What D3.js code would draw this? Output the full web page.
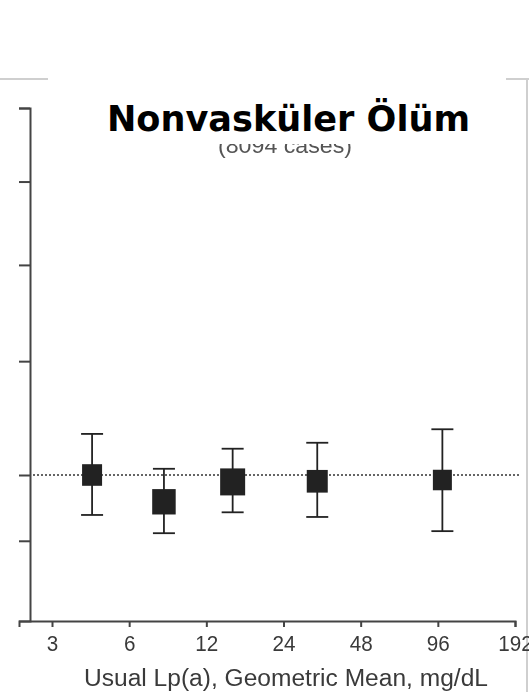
<!DOCTYPE html>
<html>
<head>
<meta charset="utf-8">
<script src="https://cdn.jsdelivr.net/npm/d3@7"></script>
<style>
  html, body { margin: 0; padding: 0; background: #fff; }
  svg { display: block; }
</style>
</head>
<body>
<svg id="chart" width="529" height="692"></svg>
<script>
// Lp(a) fifths: geometric mean of usual Lp(a), mg/dL
const lpaMeans = [4.3, 8.2, 15.2, 32.5, 100];
// Risk ratios with 95% confidence limits
const riskRatio = [1.000, 0.958, 0.989, 0.990, 0.992];
const ciLow = [0.938, 0.911, 0.942, 0.935, 0.914];
const ciHigh = [1.068, 1.010, 1.043, 1.053, 1.076];
// Cases per group (box area)
const caseCounts = [1361, 1878, 2126, 1500, 1228];
// Axis ticks
const xTicks = [3, 6, 12, 24, 48, 96, 192];
const yTicks = [0.9, 1, 1.2, 1.4, 1.6, 1.8];

const titleText = "Nonvasküler Ölüm";
const subtitleText = "(8094 cases)";
const xTitle = "Usual Lp(a), Geometric Mean, mg/dL";

const svg = d3.select("#chart");

// Scales
const x = d3.scaleLog().base(2).domain([3, 192]).range([52, 515]);
x.domain([x.invert(19), 192]).range([19, 515]);

const y = d3.scaleLog().domain([1, 1.8]).range([475, 108]);
y.domain([y.invert(621), 1.8]).range([621, 108]);

const size = d3.scaleSqrt().domain([0, d3.max(caseCounts)]).range([0, 25]);

// Slide frame
const frame = svg.append("g").attr("stroke", "#cfcfcf").attr("stroke-width", 2).attr("fill", "none");
frame.append("path").attr("d", "M0,79H529M527,79V692");

// Subtitle, its upper half hidden behind the title box
svg.append("text")
  .attr("x", 285).attr("y", 153)
  .attr("text-anchor", "middle")
  .attr("font-family", "Liberation Sans, Arial, sans-serif")
  .attr("font-size", 22)
  .attr("fill", "#555")
  .attr("textLength", 134).attr("lengthAdjust", "spacingAndGlyphs")
  .style("filter", "blur(0.4px)")
  .text(subtitleText);

svg.append("rect")
  .attr("x", 48).attr("y", 66).attr("width", 458).attr("height", 78)
  .attr("fill", "#fff");

svg.append("text")
  .attr("x", 107).attr("y", 131)
  .attr("font-family", "'Comic Sans MS', 'DejaVu Sans', sans-serif")
  .attr("font-weight", "bold")
  .attr("font-size", 35)
  .attr("fill", "#000")
  .attr("textLength", 363).attr("lengthAdjust", "spacingAndGlyphs")
  .text(titleText);

// Reference line at RR = 1
svg.append("line")
  .attr("x1", 33).attr("x2", 520)
  .attr("y1", y(1)).attr("y2", y(1))
  .attr("stroke", "#333").attr("stroke-width", 1.6)
  .attr("stroke-dasharray", "2,2");

// Y axis (no labels)
const yAxis = svg.append("g")
  .attr("transform", "translate(30,0)")
  .call(d3.axisLeft(y).tickValues(yTicks).tickSizeOuter(0).tickSize(11).tickFormat(""));
yAxis.select(".domain").attr("stroke", "#444").attr("stroke-width", 2);
yAxis.selectAll(".tick line").attr("stroke", "#444").attr("stroke-width", 2);

// X axis
const xAxis = svg.append("g")
  .attr("transform", "translate(0,621)")
  .call(d3.axisBottom(x).tickValues(xTicks).tickSizeOuter(0).tickSize(6).tickFormat(d3.format("d")));
xAxis.select(".domain").attr("stroke", "#444").attr("stroke-width", 2);
xAxis.selectAll(".tick line").attr("stroke", "#444").attr("stroke-width", 2);
xAxis.selectAll(".tick text")
  .attr("y", 30)
  .attr("dy", 0)
  .attr("font-family", "Liberation Sans, Arial, sans-serif")
  .attr("font-size", 22)
  .attr("fill", "#3a3a3a")
  .attr("textLength", d => String(d).length * 11.5)
  .attr("lengthAdjust", "spacingAndGlyphs")
  .style("filter", "blur(0.4px)");

svg.append("text")
  .attr("x", 286).attr("y", 686)
  .attr("text-anchor", "middle")
  .attr("font-family", "Liberation Sans, Arial, sans-serif")
  .attr("font-size", 23)
  .attr("fill", "#3a3a3a")
  .attr("textLength", 404).attr("lengthAdjust", "spacingAndGlyphs")
  .style("filter", "blur(0.4px)")
  .text(xTitle);

// Confidence intervals and boxes
const points = lpaMeans.map((m, i) => ({
  m, rr: riskRatio[i], lo: ciLow[i], hi: ciHigh[i], n: caseCounts[i]
}));

const g = svg.append("g").attr("stroke", "#222").attr("stroke-width", 1.8);
const capHalf = 11;
const pt = g.selectAll("g.pt").data(points).join("g").attr("class", "pt");
pt.append("line")
  .attr("x1", d => x(d.m)).attr("x2", d => x(d.m))
  .attr("y1", d => y(d.hi)).attr("y2", d => y(d.lo));
pt.append("line")
  .attr("x1", d => x(d.m) - capHalf).attr("x2", d => x(d.m) + capHalf)
  .attr("y1", d => y(d.hi)).attr("y2", d => y(d.hi));
pt.append("line")
  .attr("x1", d => x(d.m) - capHalf).attr("x2", d => x(d.m) + capHalf)
  .attr("y1", d => y(d.lo)).attr("y2", d => y(d.lo));
pt.append("rect")
  .attr("x", d => x(d.m) - size(d.n) / 2)
  .attr("y", d => y(d.rr) - size(d.n) * 1.08 / 2)
  .attr("width", d => size(d.n))
  .attr("height", d => size(d.n) * 1.08)
  .attr("fill", "#222")
  .attr("stroke", "none");
</script>
</body>
</html>
